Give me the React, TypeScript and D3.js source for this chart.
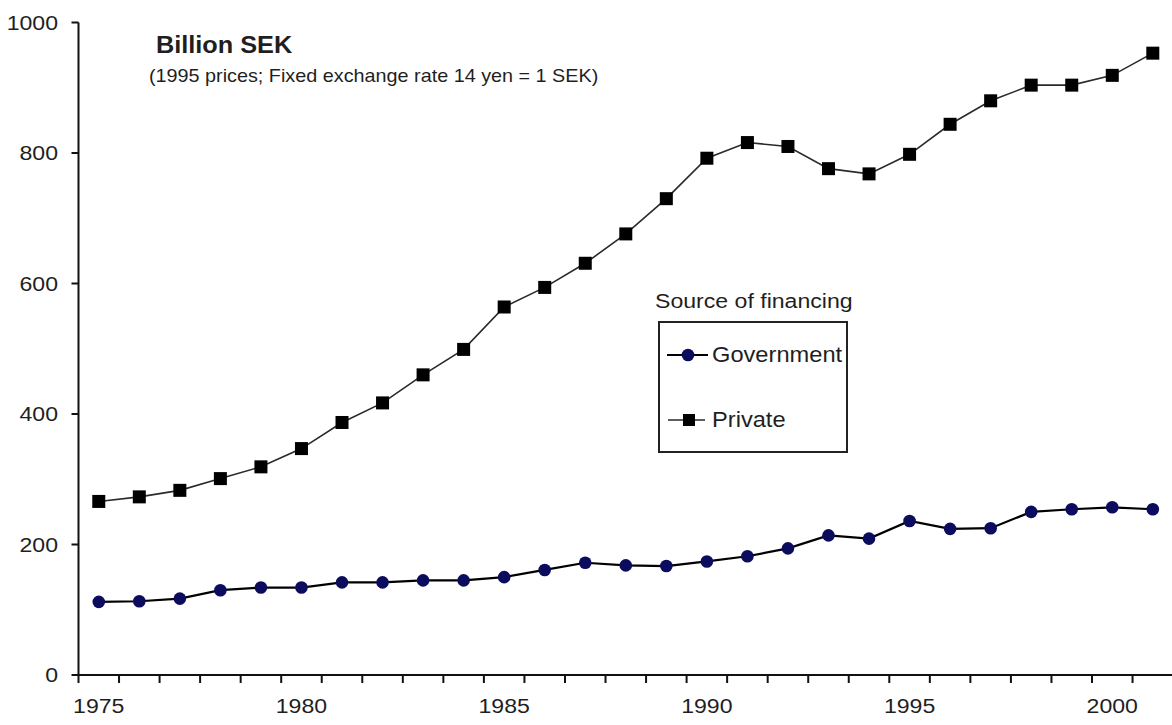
import React from "react";
import * as d3 from "d3";

const years: number[] = [
  1975, 1976, 1977, 1978, 1979, 1980, 1981, 1982, 1983, 1984,
  1985, 1986, 1987, 1988, 1989, 1990, 1991, 1992, 1993, 1994,
  1995, 1996, 1997, 1998, 1999, 2000, 2001,
];
const government: number[] = [
  112, 113, 117, 130, 134, 134, 142, 142, 145, 145,
  150, 161, 172, 168, 167, 174, 182, 194, 214, 209,
  236, 224, 225, 250, 254, 257, 254,
];
const privateFin: number[] = [
  266, 273, 283, 301, 319, 347, 387, 417, 460, 499,
  564, 594, 631, 676, 730, 792, 816, 810, 776, 768,
  798, 844, 880, 904, 904, 919, 953,
];
const yTicks: number[] = [0, 200, 400, 600, 800, 1000];
const xLabels: number[] = [1975, 1980, 1985, 1990, 1995, 2000];

const W = 1172;
const H = 725;
const FONT = "'Liberation Sans', Arial, Helvetica, sans-serif";
const SX = 1.1;

function T(props: {
  x: number;
  y: number;
  size: number;
  anchor?: string;
  weight?: string;
  children: React.ReactNode;
}) {
  return (
    <text
      transform={`translate(${props.x},${props.y}) scale(${SX},1)`}
      fontSize={props.size}
      fontFamily={FONT}
      fontWeight={props.weight || "normal"}
      textAnchor={props.anchor || "start"}
      dominantBaseline="central"
      fill="#1f1f1f"
    >
      {props.children}
    </text>
  );
}

export default function App() {
  const left = 78.5;
  const band = 40.54;
  const x = d3
    .scaleBand<number>()
    .domain(years)
    .range([left, left + band * years.length])
    .paddingInner(0)
    .paddingOuter(0);
  const y = d3.scaleLinear().domain([0, 1000]).range([675, 22.5]);
  const cx = (yr: number) => (x(yr) as number) + x.bandwidth() / 2;

  const line = d3
    .line<number>()
    .x((_, i) => cx(years[i]))
    .y((d) => y(d));

  const boundaries = years.map((yr) => x(yr) as number).concat([
    (x(years[years.length - 1]) as number) + x.bandwidth(),
  ]);

  const sq = 13;

  return (
    <div style={{ position: "fixed", left: 0, top: 0, width: W, height: H, background: "#fff" }}>
      <svg width={W} height={H} style={{ display: "block" }}>
        <rect x={0} y={0} width={W} height={H} fill="#fff" />
        {/* Y axis */}
        <line x1={left} x2={left} y1={y(1000)} y2={y(0)} stroke="#111" strokeWidth={2} />
        {yTicks.map((t) => (
          <g key={t}>
            <line x1={left - 7} x2={left} y1={y(t)} y2={y(t)} stroke="#111" strokeWidth={2} />
            <T x={58} y={y(t)} size={21} anchor="end">
              {t}
            </T>
          </g>
        ))}
        {/* X axis */}
        <line x1={left} x2={W} y1={y(0)} y2={y(0)} stroke="#111" strokeWidth={2} />
        {boundaries.map((b, i) => (
          <line key={i} x1={b} x2={b} y1={y(0)} y2={y(0) + 8} stroke="#111" strokeWidth={2} />
        ))}
        {xLabels.map((yr) => (
          <T key={yr} x={cx(yr)} y={706} size={21} anchor="middle">
            {yr}
          </T>
        ))}

        {/* Titles */}
        <T x={156} y={45} size={23} weight="bold">
          Billion SEK
        </T>
        <T x={149} y={76} size={18}>
          (1995 prices; Fixed exchange rate 14 yen = 1 SEK)
        </T>

        {/* Private series */}
        <path d={line(privateFin) || ""} fill="none" stroke="#2a2a2a" strokeWidth={1.6} />
        {privateFin.map((v, i) => (
          <rect
            key={i}
            x={cx(years[i]) - sq / 2}
            y={y(v) - sq / 2}
            width={sq}
            height={sq}
            fill="#000"
          />
        ))}

        {/* Government series */}
        <path d={line(government) || ""} fill="none" stroke="#000" strokeWidth={2.2} />
        {government.map((v, i) => (
          <circle key={i} cx={cx(years[i])} cy={y(v)} r={6.3} fill="#0c0c5e" />
        ))}

        {/* Legend */}
        <T x={655} y={301} size={21}>
          Source of financing
        </T>
        <rect x={659} y={322} width={188} height={130} fill="#fff" stroke="#222" strokeWidth={2} />
        <line x1={667} x2={708} y1={355} y2={355} stroke="#000" strokeWidth={2.2} />
        <circle cx={688} cy={355} r={6.3} fill="#0c0c5e" />
        <T x={712} y={355} size={21.5}>
          Government
        </T>
        <line x1={668} x2={705} y1={420} y2={420} stroke="#2a2a2a" strokeWidth={1.6} />
        <rect x={689 - 6} y={420 - 6} width={12} height={12} fill="#000" />
        <T x={712} y={420} size={21.5}>
          Private
        </T>
      </svg>
    </div>
  );
}
